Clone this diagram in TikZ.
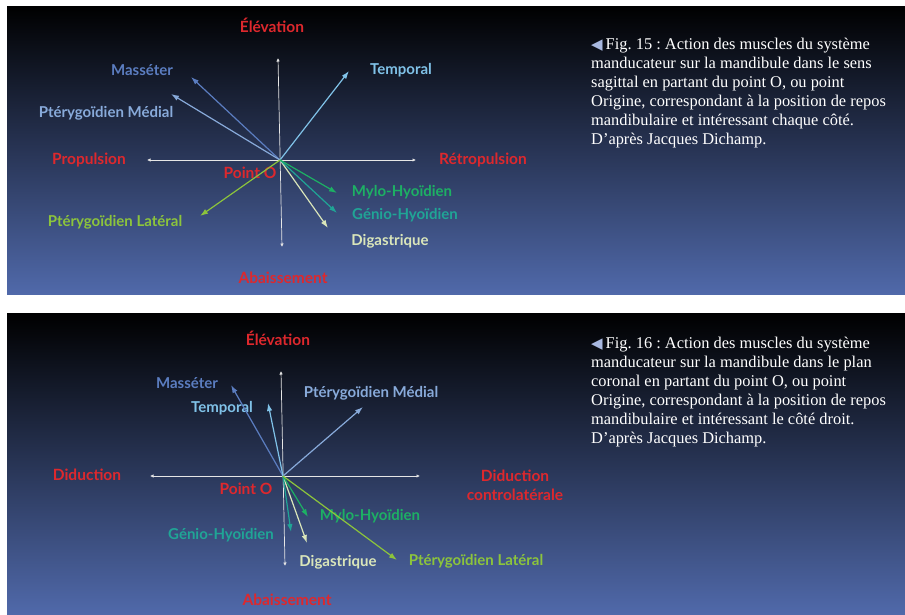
\documentclass[tikz,border=0pt]{standalone}
\usepackage{fontspec}
\setmainfont{Liberation Serif}
\setsansfont{Lato}
\newfontfamily\symb{DejaVu Sans}
\usetikzlibrary{arrows.meta,positioning,calc}
\definecolor{rouge}{HTML}{DE282D}
\definecolor{bleu}{HTML}{5069AA}
\definecolor{mass}{HTML}{5B7DC0}
\definecolor{ptmed}{HTML}{88AADA}
\definecolor{temp}{HTML}{80C2E8}
\definecolor{mylo}{HTML}{1DB064}
\definecolor{genio}{HTML}{20A596}
\definecolor{digas}{HTML}{DAE6BA}
\definecolor{ptlat}{HTML}{8CC43C}
\definecolor{axes}{HTML}{E6E6E6}
\definecolor{repere}{HTML}{A8B8E0}
\frenchspacing

\begin{document}
\begin{tikzpicture}
[x=1pt,y=-1pt,
fl/.style={-{Latex[length=8pt,width=5.5pt]},line width=1.2pt},
axe/.style={{Latex[length=3.5pt,width=3.5pt]}-{Latex[length=3.5pt,width=3.5pt]},line width=0.7pt,axes},
dir/.style={font=\sffamily\bfseries\fontsize{15.5}{19}\selectfont,text=rouge,inner sep=1pt},
mus/.style={font=\sffamily\bfseries\fontsize{15}{18}\selectfont,inner sep=1pt},
leg/.style={font=\fontsize{16.4}{19}\selectfont,text=white,align=left,anchor=north west,inner sep=0pt}]
%%%%%%%%%%
\newcommand{\cadre}[2]{
\shade[top color=black,middle color=black!96!bleu,bottom color=bleu] (7,#1) rectangle (906,#2);
}
\newcommand{\fleche}{{\symb\color{repere}\fontsize{15}{15}\selectfont\char"25C0}\hspace{3pt}}
%%%%%%%%%%

\useasboundingbox (0,0) rectangle (905,614);
\fill[white] (0,0) rectangle (905,614);

%% Fig. 15
\cadre{6}{294}
\coordinate (o1) at (280,160);
\node[dir] (elev1) at (272,25) {Élévation};
\node[dir] (abai1) at (283,278) {Abaissement};
\node[dir] (prop) at (89,160) {Propulsion};
\node[dir] (retro) at (483,160) {Rétropulsion};
\node[dir] (pto1) at (250,173) {Point O};
\coordinate (h1) at (278,58);
\coordinate (b1) at (282,247);
\coordinate (g1) at (147,160);
\coordinate (d1) at (416,160);
\draw[axe] (h1) -- (b1);
\draw[axe] (g1) -- (d1);

\node[mus,text=mass] (mass1) at (142,70) {Masséter};
\node[mus,text=ptmed] (ptmed1) at (106,113) {Ptérygoïdien Médial};
\node[mus,text=temp] (temp1) at (401,70) {Temporal};
\node[mus,text=mylo] (mylo1) at (402,192) {Mylo-Hyoïdien};
\node[mus,text=genio] (genio1) at (405,215) {Génio-Hyoïdien};
\node[mus,text=digas] (digas1) at (390,241) {Digastrique};
\node[mus,text=ptlat] (ptlat1) at (115,222) {Ptérygoïdien Latéral};

\coordinate (tmass1) at (191,77);
\coordinate (tptmed1) at (171,94);
\coordinate (ttemp1) at (349,71);
\coordinate (tmylo1) at (337,193);
\coordinate (tgenio1) at (337,213);
\coordinate (tdigas1) at (328,228);
\coordinate (tptlat1) at (200,216);
\draw[fl,mass] (o1) -- (tmass1);
\draw[fl,ptmed] (o1) -- (tptmed1);
\draw[fl,temp] (o1) -- (ttemp1);
\draw[fl,digas] (o1) -- (tdigas1);
\draw[fl,genio] (o1) -- (tgenio1);
\draw[fl,mylo] (o1) -- (tmylo1);
\draw[fl,ptlat] (o1) -- (tptlat1);

\node[leg] (leg1) at (591,38) {\fleche Fig. 15 : Action des muscles du système\\
manducateur sur la mandibule dans le sens\\
sagittal en partant du point O, ou point\\
Origine, correspondant à la position de repos\\
mandibulaire et intéressant chaque côté.\\
D'après Jacques Dichamp.};

%% Fig. 16
\cadre{313}{614}
\coordinate (o2) at (283,476);
\node[dir] (elev2) at (278,338) {Élévation};
\node[dir] (abai2) at (287,600) {Abaissement};
\node[dir] (did) at (87,475) {Diduction};
\node[dir,align=center] (didc) at (515,485) {Diduction\\controlatérale};
\node[dir] (pto2) at (246,489) {Point O};
\coordinate (h2) at (281,371);
\coordinate (b2) at (285,566);
\coordinate (g2) at (150,476);
\coordinate (d2) at (420,476);
\draw[axe] (h2) -- (b2);
\draw[axe] (g2) -- (d2);

\node[mus,text=mass] (mass2) at (187,383) {Masséter};
\node[mus,text=temp] (temp2) at (222,408) {Temporal};
\node[mus,text=ptmed] (ptmed2) at (371,393) {Ptérygoïdien Médial};
\node[mus,text=mylo] (mylo2) at (370,516) {Mylo-Hyoïdien};
\node[mus,text=genio] (genio2) at (221,535) {Génio-Hyoïdien};
\node[mus,text=digas] (digas2) at (338,562) {Digastrique};
\node[mus,text=ptlat] (ptlat2) at (476,561) {Ptérygoïdien Latéral};

\coordinate (tmass2) at (231,385);
\coordinate (ttemp2) at (268,403);
\coordinate (tptmed2) at (363,407);
\coordinate (tmylo2) at (308,517);
\coordinate (tgenio2) at (291,532);
\coordinate (tdigas2) at (307,543);
\coordinate (tptlat2) at (397,560);
\draw[fl,mass] (o2) -- (tmass2);
\draw[fl,temp] (o2) -- (ttemp2);
\draw[fl,ptmed] (o2) -- (tptmed2);
\draw[fl,digas] (o2) -- (tdigas2);
\draw[fl,genio] (o2) -- (tgenio2);
\draw[fl,mylo] (o2) -- (tmylo2);
\draw[fl,ptlat] (o2) -- (tptlat2);

\node[leg] (leg2) at (591,337) {\fleche Fig. 16 : Action des muscles du système\\
manducateur sur la mandibule dans le plan\\
coronal en partant du point O, ou point\\
Origine, correspondant à la position de repos\\
mandibulaire et intéressant le côté droit.\\
D'après Jacques Dichamp.};
\end{tikzpicture}
\end{document}
